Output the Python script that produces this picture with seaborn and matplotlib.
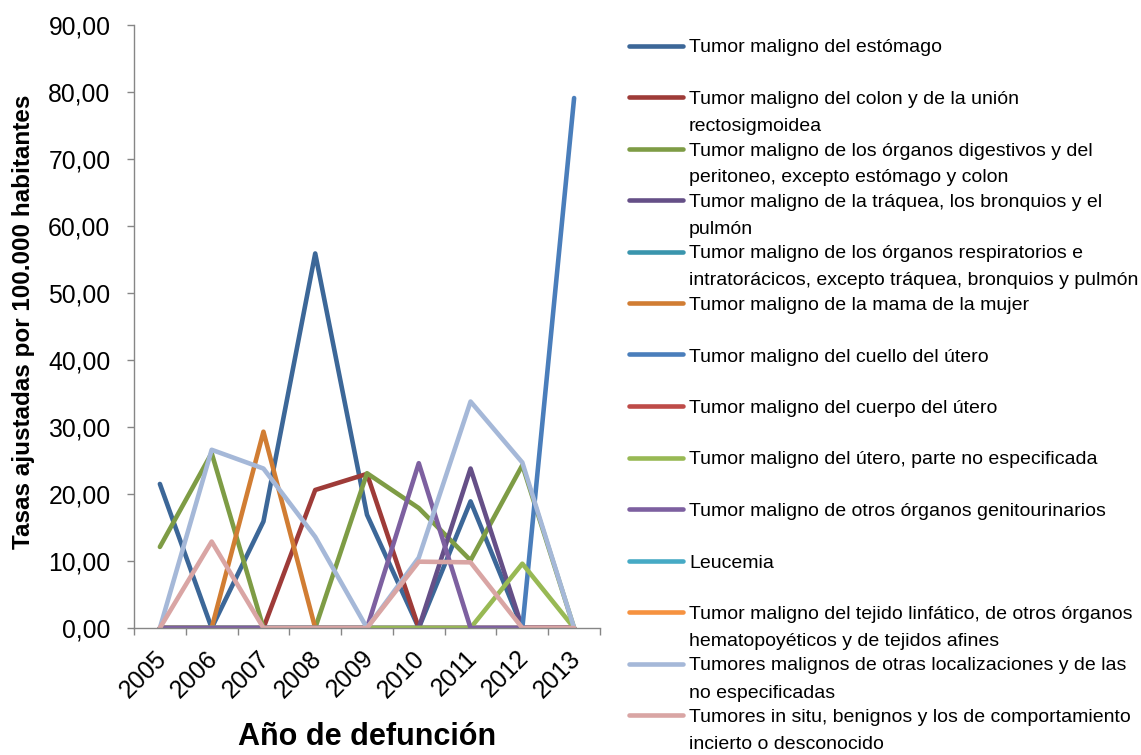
import numpy as np
import pandas as pd
import matplotlib
matplotlib.use("Agg")
import matplotlib.pyplot as plt
from matplotlib.lines import Line2D
from matplotlib.transforms import ScaledTranslation
import seaborn as sns

nan = np.nan
years = [2005, 2006, 2007, 2008, 2009, 2010, 2011, 2012, 2013]
ytick_values = [0, 10, 20, 30, 40, 50, 60, 70, 80, 90]

estomago = [21.5, 0, 15.9, 55.9, 16.9, 0, 18.9, 0, 0]
colon = [0, 0, 0, 20.6, 23.0, 0, 0, 0, 0]
digestivos = [12.1, 26.1, 0, 0, 23.1, 17.9, 10.1, 24.3, 0]
traquea = [0, 0, 0, 0, 0, 0, 23.8, 0, 0]
respiratorios = [nan] * 9
mama = [0, 0, 29.3, 0, 0, 0, 0, 0, 0]
cuello_utero = [0, 0, 0, 0, 0, 0, 0, 0, 79.1]
cuerpo_utero = [nan] * 9
utero_ne = [0, 0, 0, 0, 0, 0, 0, 9.6, 0]
genitourinarios = [0, 0, 0, 0, 0, 24.6, 0, 0, 0]
leucemia = [nan] * 9
linfatico = [nan] * 9
otras = [0, 26.6, 23.8, 13.6, 0, 10.5, 33.8, 24.7, 0]
in_situ = [0, 12.9, 0, 0, 0, 9.9, 9.8, 0, 0]

series = [
    (["Tumor maligno del estómago"], estomago, "#3C6798"),
    (["Tumor maligno del colon y de la unión", "rectosigmoidea"], colon, "#9E3B38"),
    (["Tumor maligno de los órganos digestivos y del", "peritoneo, excepto estómago y colon"], digestivos, "#7E9C45"),
    (["Tumor maligno de la tráquea, los bronquios y el", "pulmón"], traquea, "#654F87"),
    (["Tumor maligno de los órganos respiratorios e", "intratorácicos, excepto tráquea, bronquios y pulmón"], respiratorios, "#3A95AD"),
    (["Tumor maligno de la mama de la mujer"], mama, "#D17D33"),
    (["Tumor maligno del cuello del útero"], cuello_utero, "#4A7EBB"),
    (["Tumor maligno del cuerpo del útero"], cuerpo_utero, "#BE4B48"),
    (["Tumor maligno del útero, parte no especificada"], utero_ne, "#98B954"),
    (["Tumor maligno de otros órganos genitourinarios"], genitourinarios, "#7D60A0"),
    (["Leucemia"], leucemia, "#46AAC5"),
    (["Tumor maligno del tejido linfático, de otros órganos", "hematopoyéticos y de tejidos afines"], linfatico, "#F69240"),
    (["Tumores malignos de otras localizaciones y de las", "no especificadas"], otras, "#A5B8D8"),
    (["Tumores in situ, benignos y los de comportamiento", "incierto o desconocido"], in_situ, "#D9A5A4"),
]

sns.set_style("white")
plt.rcParams['font.family'] = ['Liberation Sans', 'DejaVu Sans']

W, H = 1141, 755
fig = plt.figure(figsize=(W / 100, H / 100), dpi=100)
ax = fig.add_axes([134 / W, 1 - 628 / H, (600 - 134) / W, (628 - 25) / H])

LW = 3.3
for lines, vals, col in series:
    df = pd.DataFrame({"year": years, "val": vals}).dropna()
    if len(df):
        sns.lineplot(data=df, x="year", y="val", color=col, lw=LW, ax=ax,
                     sort=False, estimator=None,
                     solid_capstyle="round", solid_joinstyle="round")

ax.set_xlim(years[0] - 0.5, years[-1] + 0.5)
ax.set_ylim(0, 90)
ax.set_yticks(ytick_values)
ax.set_yticklabels([f"{v:.2f}".replace(".", ",") for v in ytick_values],
                   fontsize=17.8, color="black")
ax.set_xticks(years)
ax.set_xticklabels([str(y) for y in years], fontsize=17.8, rotation=45,
                   ha="right", va="top", rotation_mode="anchor", color="black")
ax.set_xticks([y - 0.5 for y in years] + [years[-1] + 0.5], minor=True)
ax.tick_params(axis="x", which="major", bottom=True, length=0, pad=13)
ax.tick_params(axis="x", which="minor", bottom=True, length=5, width=1,
               color="#868686", direction="out")
ax.tick_params(axis="y", which="major", left=True, length=5, width=1,
               color="#868686", direction="out", pad=12)
shift = ScaledTranslation(-6 / 100, 0, fig.dpi_scale_trans)
for lab in ax.get_xticklabels():
    lab.set_transform(lab.get_transform() + shift)
for s in ["top", "right"]:
    ax.spines[s].set_visible(False)
for s in ["left", "bottom"]:
    ax.spines[s].set_color("#868686")
    ax.spines[s].set_linewidth(1)

ax.set_xlabel("")
ax.set_ylabel("")
fig.text(367 / W, 1 - 737 / H, "Año de defunción", fontsize=22, fontweight="bold",
         ha="center", va="center", color="black")
fig.text(24 / W, 1 - 322 / H, "Tasas ajustadas por 100.000 habitantes", fontsize=17.5,
         fontweight="bold", rotation=90, ha="center", va="center", color="black")

# legend (manual, Excel-like fixed slots)
y0 = 45.5
step = 51.5
for i, (lines, vals, col) in enumerate(series):
    yc = y0 + i * step
    fig.add_artist(Line2D([629 / W, 683 / W], [1 - yc / H, 1 - yc / H],
                          transform=fig.transFigure, color=col, lw=LW,
                          solid_capstyle="round"))
    for k, t in enumerate(lines):
        fig.text(689 / W, 1 - (yc + 7 + k * 27) / H, t, fontsize=14,
                 ha="left", va="baseline", color="black")

fig.savefig("out.png", dpi=100)
